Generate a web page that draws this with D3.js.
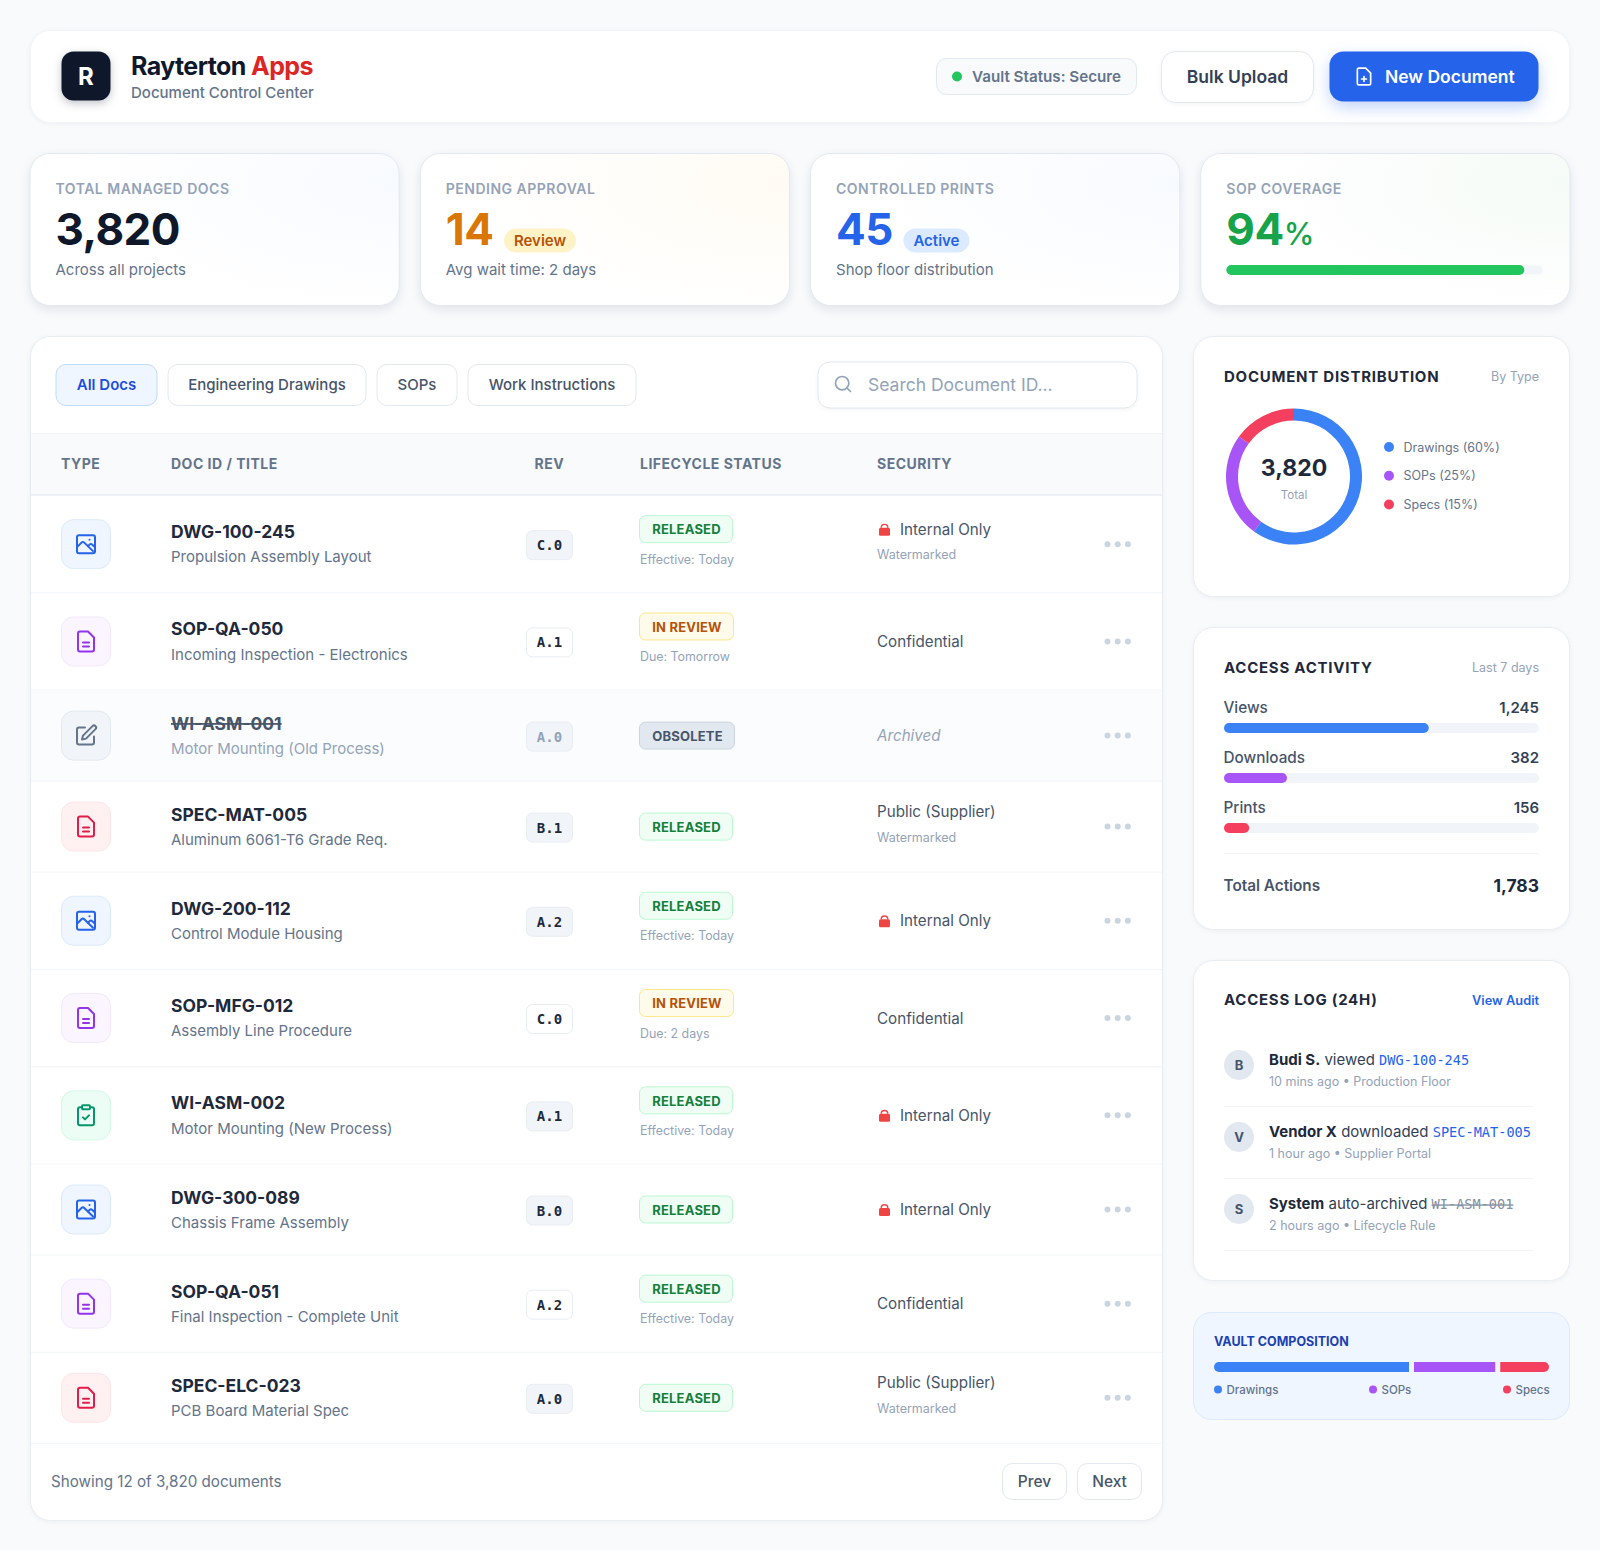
<!DOCTYPE html>
<html>
<head>
<meta charset="utf-8">
<title>Document Control Center</title>
<script src="https://cdn.jsdelivr.net/npm/d3@7/dist/d3.min.js"></script>
<style>
  html, body { margin: 0; padding: 0; background: #f8fafc; }
  svg { display: block; font-family: Inter, "Noto Sans", sans-serif; }
  .mono { font-family: "DejaVu Sans Mono", monospace; }
</style>
</head>
<body>
<div id="page"></div>
<script>
// table data
const docIds = ['DWG-100-245', 'SOP-QA-050', 'WI-ASM-001', 'SPEC-MAT-005', 'DWG-200-112', 'SOP-MFG-012', 'WI-ASM-002', 'DWG-300-089', 'SOP-QA-051', 'SPEC-ELC-023'];
const docTitles = ['Propulsion Assembly Layout', 'Incoming Inspection - Electronics', 'Motor Mounting (Old Process)', 'Aluminum 6061-T6 Grade Req.', 'Control Module Housing', 'Assembly Line Procedure', 'Motor Mounting (New Process)', 'Chassis Frame Assembly', 'Final Inspection - Complete Unit', 'PCB Board Material Spec'];
const docKinds = ['image', 'sop', 'edit', 'spec', 'image', 'sop', 'check', 'image', 'sop', 'spec'];
const revisions = ['C.0', 'A.1', 'A.0', 'B.1', 'A.2', 'C.0', 'A.1', 'B.0', 'A.2', 'A.0'];
const statuses = ['RELEASED', 'IN REVIEW', 'OBSOLETE', 'RELEASED', 'RELEASED', 'IN REVIEW', 'RELEASED', 'RELEASED', 'RELEASED', 'RELEASED'];
const statusNotes = ['Effective: Today', 'Due: Tomorrow', '', '', 'Effective: Today', 'Due: 2 days', 'Effective: Today', '', 'Effective: Today', ''];
const securityLevels = ['Internal Only', 'Confidential', 'Archived', 'Public (Supplier)', 'Internal Only', 'Confidential', 'Internal Only', 'Internal Only', 'Confidential', 'Public (Supplier)'];
const securityNotes = ['Watermarked', '', '', 'Watermarked', '', '', '', '', '', 'Watermarked'];
const tableColumns = ['TYPE', 'DOC ID / TITLE', 'REV', 'LIFECYCLE STATUS', 'SECURITY'];
const filterTabs = ['All Docs', 'Engineering Drawings', 'SOPs', 'Work Instructions'];

// kpi data
const kpiLabels = ['TOTAL MANAGED DOCS', 'PENDING APPROVAL', 'CONTROLLED PRINTS', 'SOP COVERAGE'];
const kpiValues = ['3,820', '14', '45', '94'];
const kpiNotes = ['Across all projects', 'Avg wait time: 2 days', 'Shop floor distribution', ''];
const sopCoverage = 94;

// sidebar data
const typeNames = ['Drawings', 'SOPs', 'Specs'];
const typeShares = [60, 25, 15];
const activityNames = ['Views', 'Downloads', 'Prints'];
const activityCounts = ['1,245', '382', '156'];
const activityShares = [65, 20, 8];
const logUsers = ['Budi S.', 'Vendor X', 'System'];
const logVerbs = ['viewed', 'downloaded', 'auto-archived'];
const logDocs = ['DWG-100-245', 'SPEC-MAT-005', 'WI-ASM-001'];
const logTimes = ['10 mins ago \u2022 Production Floor', '1 hour ago \u2022 Supplier Portal', '2 hours ago \u2022 Lifecycle Rule'];

const typeColor = d3.scaleOrdinal(typeNames, ['#3b82f6', '#a855f7', '#f43f5e']);

const svg = d3.select('#page').append('svg').attr('width', 1600).attr('height', 1550);
const defs = svg.append('defs');

const softShadow = 'drop-shadow(0 1px 2px rgba(15,23,42,0.05))';
const cardShadow = 'drop-shadow(0 4px 5px rgba(15,23,42,0.09))';

function box(parent, x, y, w, h, r, fill, stroke, shadow) {
  return parent.append('rect')
    .attr('x', x + 0.5).attr('y', y + 0.5)
    .attr('width', w - 1).attr('height', h - 1)
    .attr('rx', r)
    .attr('fill', fill)
    .attr('stroke', stroke || 'none')
    .style('filter', shadow || null);
}

function label(parent, x, y, text, size, weight, fill, opts) {
  const o = opts || {};
  return parent.append('text')
    .attr('x', x).attr('y', y).attr('dy', '0.36em')
    .attr('text-anchor', o.anchor || 'start')
    .attr('class', o.mono ? 'mono' : null)
    .style('font-size', size + 'px')
    .style('font-weight', weight)
    .style('letter-spacing', o.spacing ? o.spacing + 'px' : null)
    .style('font-style', o.italic ? 'italic' : null)
    .style('text-decoration', o.strike ? 'line-through' : null)
    .attr('fill', fill)
    .text(text);
}

// icons use a 24 unit grid, centred on cx, cy
const iconPaths = {
  image: ['M5 3h14a2 2 0 0 1 2 2v14a2 2 0 0 1-2 2H5a2 2 0 0 1-2-2V5a2 2 0 0 1 2-2z', 'M3 15l4.5-4.5a2 2 0 0 1 2.8 0L19 19', 'M14 14l1.5-1.5a2 2 0 0 1 2.8 0L21 15', 'M15.5 7.5h.01'],
  file: ['M14 2H6a2 2 0 0 0-2 2v16a2 2 0 0 0 2 2h12a2 2 0 0 0 2-2V8z', 'M9 13h6', 'M9 17h6'],
  edit: ['M11 4H5a2 2 0 0 0-2 2v13a2 2 0 0 0 2 2h13a2 2 0 0 0 2-2v-6', 'M18.5 2.5a2.1 2.1 0 0 1 3 3L12 15l-4 1 1-4z'],
  check: ['M16 4h2a2 2 0 0 1 2 2v14a2 2 0 0 1-2 2H6a2 2 0 0 1-2-2V6a2 2 0 0 1 2-2h2', 'M9 2h6a1 1 0 0 1 1 1v2a1 1 0 0 1-1 1H9a1 1 0 0 1-1-1V3a1 1 0 0 1 1-1z', 'M9 14l2 2 4-4'],
  plus: ['M14 2H6a2 2 0 0 0-2 2v16a2 2 0 0 0 2 2h12a2 2 0 0 0 2-2V8z', 'M12 18v-6', 'M9 15h6'],
  search: ['M11 3a8 8 0 1 0 0 16a8 8 0 1 0 0-16z', 'M21 21l-4.35-4.35']
};

function icon(parent, name, cx, cy, size, color, width) {
  const k = size / 24;
  const g = parent.append('g')
    .attr('transform', `translate(${cx - size / 2},${cy - size / 2}) scale(${k})`)
    .attr('fill', 'none').attr('stroke', color).attr('stroke-width', width || 2)
    .attr('stroke-linecap', 'round').attr('stroke-linejoin', 'round');
  g.selectAll('path').data(iconPaths[name]).enter().append('path').attr('d', (d) => d);
}

// top header
const header = svg.append('g');
box(header, 30, 30, 1540, 93, 20, '#ffffff', '#f1f5f9', softShadow);
box(header, 61, 51, 50, 50, 12, '#0f172a', null, 'drop-shadow(0 3px 4px rgba(15,23,42,0.25))');
label(header, 86, 76.5, 'R', 24, 700, '#ffffff', { anchor: 'middle' });
const brand = label(header, 131, 65.5, 'Rayterton ', 25, 700, '#0f172a', { spacing: -0.6 });
brand.append('tspan').attr('fill', '#dc2626').text('Apps');
label(header, 131, 92.5, 'Document Control Center', 15, 500, '#64748b');

box(header, 936, 58, 201, 37, 10, '#f8fafc', '#e2e8f0');
header.append('circle').attr('cx', 957).attr('cy', 76.5).attr('r', 5).attr('fill', '#22c55e');
label(header, 972, 76.5, 'Vault Status: Secure', 15.2, 600, '#64748b');
box(header, 1161, 51, 153, 52, 14, '#ffffff', '#e2e8f0', softShadow);
label(header, 1237.5, 76.5, 'Bulk Upload', 17.5, 600, '#334155', { anchor: 'middle' });
box(header, 1329, 51, 210, 51, 14, '#2563eb', null, 'drop-shadow(0 6px 8px rgba(37,99,235,0.28))');
icon(header, 'plus', 1364, 76.5, 20, '#ffffff');
label(header, 1385, 76.5, 'New Document', 17.5, 600, '#ffffff');

// kpi cards
const kpiX = d3.scaleBand().domain(kpiLabels).range([29.5, 1569.5]).paddingInner(20 / 370);
const kpiTints = ['#f7faff', '#fffbf3', '#f7faff', '#f5fbf6'];
const kpiColors = ['#0f172a', '#d97706', '#2563eb', '#16a34a'];
const kpiPills = ['', 'Review', 'Active', ''];
const pillStyle = { Review: ['#fef3c7', '#b45309', 73], Active: ['#dbeafe', '#2563eb', 67] };

kpiLabels.forEach((name, i) => {
  const x = kpiX(name);
  const grad = defs.append('radialGradient').attr('id', 'kpi' + i)
    .attr('cx', 1).attr('cy', 0.2).attr('r', 0.9);
  grad.append('stop').attr('offset', '0%').attr('stop-color', kpiTints[i]);
  grad.append('stop').attr('offset', '100%').attr('stop-color', '#ffffff');
  const g = svg.append('g');
  box(g, x, 153, kpiX.bandwidth() + 1, 153, 20, `url(#kpi${i})`, '#e2e8f0', cardShadow);
  label(g, x + 26, 189, name, 14, 600, '#94a3b8', { spacing: 0.5 });
  const value = label(g, x + 26, 229, kpiValues[i], 44, 700, kpiColors[i], { spacing: -0.5 });
  if (kpiPills[i]) {
    const style = pillStyle[kpiPills[i]];
    const px = x + 26 + value.node().getComputedTextLength() + 10;
    box(g, px, 228, style[2], 25, 12.5, style[0]);
    label(g, px + style[2] / 2, 240.5, kpiPills[i], 15, 600, style[1], { anchor: 'middle' });
  }
  if (kpiNotes[i]) label(g, x + 26, 270, kpiNotes[i], 15, 400, '#64748b');
  if (name === 'SOP COVERAGE') {
    value.append('tspan').text('%').style('font-size', '31px').style('font-weight', 500);
    const bar = d3.scaleLinear().domain([0, 100]).range([0, 317]);
    box(g, x + 26, 265, bar(100), 10, 5, '#f1f5f9');
    g.append('rect').attr('x', x + 26).attr('y', 265).attr('rx', 5).attr('height', 10)
      .attr('width', bar(sopCoverage)).attr('fill', '#22c55e');
  }
});

// document table
const panel = svg.append('g');
box(panel, 30, 336, 1133, 1185, 20, '#ffffff', '#e8edf3', softShadow);
const tabX = [55.5, 167.5, 376.5, 467.5];
const tabW = [102, 199, 81, 169];
filterTabs.forEach((name, i) => {
  const on = i === 0;
  box(panel, tabX[i], 364, tabW[i], 42, 10, on ? '#eff6ff' : '#ffffff', on ? '#bfdbfe' : '#e2e8f0');
  label(panel, tabX[i] + tabW[i] / 2, 385, name, 15, on ? 600 : 500, on ? '#1d4ed8' : '#475569', { anchor: 'middle' });
});
box(panel, 817.5, 361.5, 320, 47, 12, '#ffffff', '#e2e8f0', softShadow);
icon(panel, 'search', 843, 384, 20, '#94a3b8');
label(panel, 868, 385, 'Search Document ID...', 17.5, 400, '#94a3b8');

panel.append('rect').attr('x', 31).attr('y', 433).attr('width', 1131).attr('height', 62).attr('fill', '#f8fafc');
panel.append('line').attr('x1', 31).attr('x2', 1162).attr('y1', 433.5).attr('y2', 433.5).attr('stroke', '#f1f5f9');
panel.append('line').attr('x1', 31).attr('x2', 1162).attr('y1', 495).attr('y2', 495).attr('stroke', '#e8edf3').attr('stroke-width', 1.5);
const columnX = [61, 171, 534.5, 640, 877];
tableColumns.forEach((name, i) => label(panel, columnX[i], 464, name, 14, 700, '#64748b', { spacing: 0.5 }));

const rowHeights = statusNotes.map((d) => (d ? 97.3 : 91));
const rowTops = [496].concat(Array.from(d3.cumsum(rowHeights), (d) => 496 + d));

const kindStyle = {
  image: ['image', '#2563eb', '#eff6ff', '#dbeafe'],
  sop: ['file', '#9333ea', '#faf5ff', '#f3e8ff'],
  edit: ['edit', '#64748b', '#f1f5f9', '#e2e8f0'],
  spec: ['file', '#e11d48', '#fff1f2', '#ffe4e6'],
  check: ['check', '#059669', '#ecfdf5', '#d1fae5']
};
const statusStyle = {
  RELEASED: ['#f0fdf4', '#bbf7d0', '#15803d', 94],
  'IN REVIEW': ['#fffbeb', '#fde68a', '#b45309', 95],
  OBSOLETE: ['#e2e8f0', '#cbd5e1', '#475569', 96]
};

docIds.forEach((id, i) => {
  const top = rowTops[i];
  const mid = top + (rowHeights[i] - 1) / 2;
  const g = panel.append('g');
  const old = statuses[i] === 'OBSOLETE';
  if (old) g.append('rect').attr('x', 31).attr('y', top).attr('width', 1131).attr('height', rowHeights[i]).attr('fill', '#fbfcfd');
  g.append('line').attr('x1', 31).attr('x2', 1162).attr('y1', top + rowHeights[i] - 0.5).attr('y2', top + rowHeights[i] - 0.5).attr('stroke', '#f1f5f9');

  const kind = kindStyle[docKinds[i]];
  box(g, 61, mid - 25, 50, 50, 12, kind[2], kind[3]);
  icon(g, kind[0], 86, mid, 24, kind[1]);

  label(g, 171, mid - 12.3, id, 17.5, 700, old ? '#475569' : '#1e293b', { strike: old });
  label(g, 171, mid + 12.8, docTitles[i], 15, 400, old ? '#94a3b8' : '#64748b');

  const sop = docKinds[i] === 'sop';
  box(g, 526, mid - 14, 47, 30, 6, sop ? '#ffffff' : '#f1f5f9', '#e8edf3');
  label(g, 549.5, mid + 1, revisions[i], 14, 700, old ? '#94a3b8' : '#1e293b', { anchor: 'middle', mono: true });

  const st = statusStyle[statuses[i]];
  const note = statusNotes[i];
  const chipMid = note ? mid - 15 : mid;
  box(g, 639, chipMid - 14, st[3], 28, 6, st[0], st[1]);
  label(g, 639.5 + st[3] / 2, chipMid + 0.5, statuses[i], 13, 700, st[2], { anchor: 'middle', spacing: 0.2 });
  if (note) label(g, 640, mid + 15, note, 12.4, 400, '#94a3b8');

  const level = securityLevels[i];
  const extra = securityNotes[i];
  const lineY = extra ? mid - 15 : mid;
  if (level === 'Internal Only') {
    g.append('path')
      .attr('d', d3.arc()({ innerRadius: 2.6, outerRadius: 4, startAngle: -Math.PI / 2, endAngle: Math.PI / 2 }))
      .attr('transform', `translate(884.5,${lineY - 1.5})`).attr('fill', '#ef4444');
    g.append('rect').attr('x', 879).attr('y', lineY - 1.5).attr('width', 11).attr('height', 8).attr('rx', 1.5).attr('fill', '#ef4444');
    label(g, 900, lineY, level, 15.2, 400, '#475569');
  } else {
    label(g, 877, lineY, level, 15.2, 400, old ? '#94a3b8' : '#475569', { italic: old });
  }
  if (extra) label(g, 877, mid + 10.5, extra, 12.5, 400, '#94a3b8');

  g.selectAll('circle.dot').data([0, 1, 2]).enter().append('circle').attr('class', 'dot')
    .attr('cx', (d) => 1107.5 + d * 10.2).attr('cy', mid).attr('r', 3).attr('fill', '#cbd5e1');
});

label(panel, 51, 1481.5, 'Showing 12 of 3,820 documents', 15.2, 400, '#64748b');
box(panel, 1002, 1463, 65, 37, 10, '#ffffff', '#e2e8f0');
label(panel, 1034.5, 1481.5, 'Prev', 15.5, 500, '#475569', { anchor: 'middle' });
box(panel, 1077, 1463, 65, 37, 10, '#ffffff', '#e2e8f0');
label(panel, 1109.5, 1481.5, 'Next', 15.5, 500, '#475569', { anchor: 'middle' });

// sidebar: distribution donut
function sideCard(y, h) {
  const g = svg.append('g');
  box(g, 1193, y, 377, h, 20, '#ffffff', '#e8edf3', softShadow);
  return g;
}
function cardTitle(g, y, title, sideNote, noteColor, noteWeight, noteSize) {
  label(g, 1224, y, title, 15, 700, '#1e293b', { spacing: 0.75 });
  label(g, 1539, y, sideNote, noteSize || 12.5, noteWeight || 400, noteColor || '#94a3b8', { anchor: 'end' });
}

const dist = sideCard(336, 261);
cardTitle(dist, 376.5, 'DOCUMENT DISTRIBUTION', 'By Type');
const pie = d3.pie().sort(null).value((d) => d);
const arc = d3.arc().innerRadius(56).outerRadius(68);
dist.append('g').attr('transform', 'translate(1294,476.5)')
  .selectAll('path').data(pie(typeShares)).enter().append('path')
  .attr('d', arc).attr('fill', (d, i) => typeColor(typeNames[i]));
label(dist, 1294, 468, '3,820', 23, 700, '#1e293b', { anchor: 'middle' });
label(dist, 1294, 494.5, 'Total', 11.5, 400, '#94a3b8', { anchor: 'middle' });
const legendY = d3.scalePoint().domain(typeNames).range([447, 504.5]);
typeNames.forEach((name, i) => {
  dist.append('circle').attr('cx', 1389).attr('cy', legendY(name)).attr('r', 5).attr('fill', typeColor(name));
  label(dist, 1403.5, legendY(name), `${name} (${typeShares[i]}%)`, 12.5, 400, '#64748b');
});

// sidebar: access activity bars
const activity = sideCard(627, 303);
cardTitle(activity, 667.5, 'ACCESS ACTIVITY', 'Last 7 days');
const activityY = d3.scalePoint().domain(activityNames).range([707.5, 807.5]);
const activityX = d3.scaleLinear().domain([0, 100]).range([0, 315]);
const activityColor = d3.scaleOrdinal(activityNames, typeColor.range());
activityNames.forEach((name, i) => {
  const y = activityY(name);
  label(activity, 1223.5, y, name, 15.3, 500, '#475569');
  label(activity, 1539, y, activityCounts[i], 15, 600, '#334155', { anchor: 'end' });
  activity.append('rect').attr('x', 1224).attr('y', y + 15.5).attr('width', activityX(100)).attr('height', 10).attr('rx', 5).attr('fill', '#f1f5f9');
  activity.append('rect').attr('x', 1224).attr('y', y + 15.5).attr('width', activityX(activityShares[i])).attr('height', 10).attr('rx', 5).attr('fill', activityColor(name));
});
activity.append('line').attr('x1', 1224).attr('x2', 1539).attr('y1', 853.5).attr('y2', 853.5).attr('stroke', '#f1f5f9');
label(activity, 1223.5, 885.5, 'Total Actions', 15.3, 600, '#475569');
label(activity, 1539, 885.5, '1,783', 17.5, 700, '#1e293b', { anchor: 'end' });

// sidebar: access log
const log = sideCard(960, 321);
cardTitle(log, 1000, 'ACCESS LOG (24H)', 'View Audit', '#2563eb', 600, 12.8);
const logY = d3.scalePoint().domain(logUsers).range([1065, 1209]);
logUsers.forEach((user, i) => {
  const y = logY(user);
  log.append('circle').attr('cx', 1239).attr('cy', y).attr('r', 15).attr('fill', '#e2e8f0');
  label(log, 1239, y, user[0], 13, 700, '#475569', { anchor: 'middle' });
  const line = label(log, 1269, y - 5, user, 15, 700, '#1e293b');
  line.append('tspan').attr('fill', '#334155').style('font-weight', 400).text(' ' + logVerbs[i] + ' ');
  const done = logVerbs[i] === 'auto-archived';
  line.append('tspan').attr('class', 'mono')
    .attr('fill', done ? '#8491a5' : '#2563eb')
    .style('font-size', '13.6px').style('font-weight', 400)
    .style('text-decoration', done ? 'line-through' : null)
    .text(logDocs[i]);
  label(log, 1269, y + 16.5, logTimes[i], 12.5, 400, '#94a3b8');
  log.append('line').attr('x1', 1224).attr('x2', 1533).attr('y1', y + 41.5).attr('y2', y + 41.5).attr('stroke', '#f1f5f9');
});

// sidebar: vault composition stacked bar
const vault = svg.append('g');
box(vault, 1193, 1312, 377, 108, 18, '#eff6ff', '#dbeafe');
label(vault, 1214, 1341, 'VAULT COMPOSITION', 12.5, 700, '#1e40af');
const vaultGap = 5;
const vaultX = d3.scaleLinear().domain([0, d3.sum(typeShares)]).range([0, 335 - vaultGap * (typeShares.length - 1)]);
defs.append('clipPath').attr('id', 'vaultClip').append('rect')
  .attr('x', 1214).attr('y', 1362).attr('width', 335).attr('height', 10).attr('rx', 5);
const vaultBar = vault.append('g').attr('clip-path', 'url(#vaultClip)');
const starts = [0].concat(Array.from(d3.cumsum(typeShares)));
vaultBar.selectAll('rect').data(typeShares).enter().append('rect')
  .attr('x', (d, i) => 1214 + vaultX(starts[i]) + i * vaultGap)
  .attr('y', 1362).attr('height', 10)
  .attr('width', (d) => vaultX(d))
  .attr('fill', (d, i) => typeColor(typeNames[i]));
const vaultDots = [1218, 1373, 1507];
typeNames.forEach((name, i) => {
  vault.append('circle').attr('cx', vaultDots[i]).attr('cy', 1389.5).attr('r', 4).attr('fill', typeColor(name));
  label(vault, vaultDots[i] + 8.5, 1390, name, 11.5, 500, '#64748b');
});
</script>
</body>
</html>
